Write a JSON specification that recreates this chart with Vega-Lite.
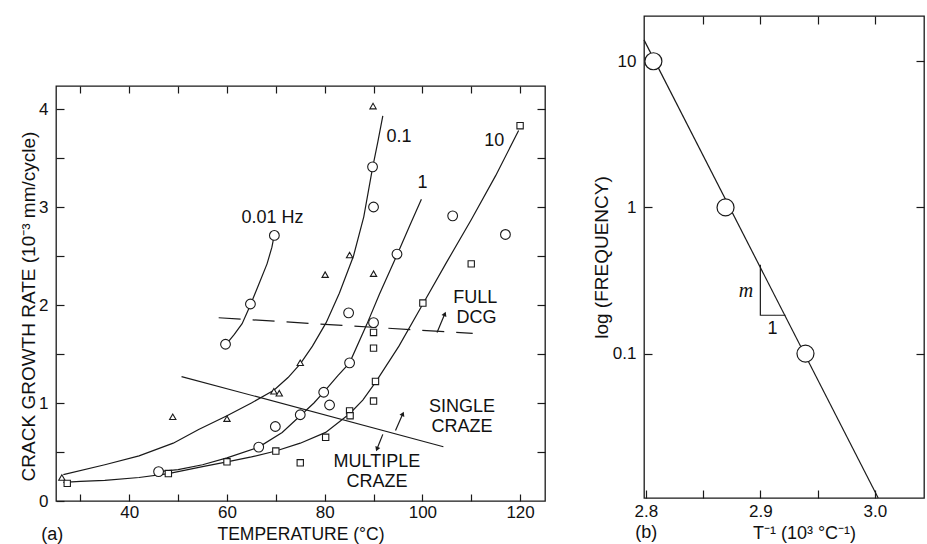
{
  "$schema": "https://vega.github.io/schema/vega-lite/v6.json",
  "background": "white",
  "padding": {"left": 18, "top": 14, "right": 0, "bottom": 0},
  "config": {
    "view": {"stroke": "#1a1a1a", "strokeWidth": 1.3},
    "font": "Liberation Sans",
    "axis": {"domain": false, "grid": false, "tickColor": "#1a1a1a", "tickWidth": 1.2, "labelFont": "Liberation Sans", "labelFontSize": 17, "labelColor": "#111", "titleFont": "Liberation Sans", "titleFontSize": 18, "titleFontWeight": "normal", "titleColor": "#111"},
    "text": {"font": "Liberation Sans", "fontSize": 18, "color": "#111"},
    "line": {"color": "#1a1a1a", "strokeWidth": 1.2}
  },
  "datasets": {
    "curvesA": [
      {"curve": "0.01 Hz", "t": 59.7, "rate": 1.59}, {"curve": "0.01 Hz", "t": 61.5, "rate": 1.70}, {"curve": "0.01 Hz", "t": 63.1, "rate": 1.81}, {"curve": "0.01 Hz", "t": 64.8, "rate": 2.00}, {"curve": "0.01 Hz", "t": 66.5, "rate": 2.21}, {"curve": "0.01 Hz", "t": 68.2, "rate": 2.42}, {"curve": "0.01 Hz", "t": 69.2, "rate": 2.59}, {"curve": "0.01 Hz", "t": 69.7, "rate": 2.72},
      {"curve": "0.1", "t": 26.5, "rate": 0.27}, {"curve": "0.1", "t": 35, "rate": 0.37}, {"curve": "0.1", "t": 42, "rate": 0.46}, {"curve": "0.1", "t": 49, "rate": 0.59}, {"curve": "0.1", "t": 54.2, "rate": 0.73}, {"curve": "0.1", "t": 60, "rate": 0.87}, {"curve": "0.1", "t": 65, "rate": 1.0}, {"curve": "0.1", "t": 69.6, "rate": 1.13}, {"curve": "0.1", "t": 72.5, "rate": 1.26}, {"curve": "0.1", "t": 75, "rate": 1.40}, {"curve": "0.1", "t": 77.5, "rate": 1.58}, {"curve": "0.1", "t": 80.3, "rate": 1.82}, {"curve": "0.1", "t": 83, "rate": 2.12}, {"curve": "0.1", "t": 85.9, "rate": 2.5}, {"curve": "0.1", "t": 88, "rate": 2.9}, {"curve": "0.1", "t": 89.8, "rate": 3.4}, {"curve": "0.1", "t": 90.9, "rate": 3.67}, {"curve": "0.1", "t": 91.9, "rate": 3.93},
      {"curve": "1", "t": 46, "rate": 0.30}, {"curve": "1", "t": 50, "rate": 0.32}, {"curve": "1", "t": 55, "rate": 0.37}, {"curve": "1", "t": 60, "rate": 0.44}, {"curve": "1", "t": 66.5, "rate": 0.55}, {"curve": "1", "t": 71.3, "rate": 0.70}, {"curve": "1", "t": 75, "rate": 0.87}, {"curve": "1", "t": 77.8, "rate": 1.0}, {"curve": "1", "t": 79.8, "rate": 1.11}, {"curve": "1", "t": 82.7, "rate": 1.28}, {"curve": "1", "t": 85.1, "rate": 1.41}, {"curve": "1", "t": 88.6, "rate": 1.80}, {"curve": "1", "t": 91.2, "rate": 2.11}, {"curve": "1", "t": 94.8, "rate": 2.51}, {"curve": "1", "t": 97.4, "rate": 2.81}, {"curve": "1", "t": 99.8, "rate": 3.08},
      {"curve": "10", "t": 26.5, "rate": 0.19}, {"curve": "10", "t": 30, "rate": 0.20}, {"curve": "10", "t": 35, "rate": 0.21}, {"curve": "10", "t": 42, "rate": 0.24}, {"curve": "10", "t": 48, "rate": 0.28}, {"curve": "10", "t": 55, "rate": 0.35}, {"curve": "10", "t": 60, "rate": 0.40}, {"curve": "10", "t": 65, "rate": 0.45}, {"curve": "10", "t": 70, "rate": 0.51}, {"curve": "10", "t": 75, "rate": 0.59}, {"curve": "10", "t": 80.2, "rate": 0.70}, {"curve": "10", "t": 85.1, "rate": 0.89}, {"curve": "10", "t": 87.8, "rate": 1.03}, {"curve": "10", "t": 90.4, "rate": 1.21}, {"curve": "10", "t": 95.2, "rate": 1.58}, {"curve": "10", "t": 100.1, "rate": 2.01}, {"curve": "10", "t": 105, "rate": 2.44}, {"curve": "10", "t": 110, "rate": 2.87}, {"curve": "10", "t": 115, "rate": 3.32}, {"curve": "10", "t": 119.7, "rate": 3.78}
    ],
    "pointsA": [
      {"set": "triangles", "t": 26.2, "rate": 0.24}, {"set": "triangles", "t": 48.9, "rate": 0.86}, {"set": "triangles", "t": 60, "rate": 0.84}, {"set": "triangles", "t": 69.6, "rate": 1.12}, {"set": "triangles", "t": 70.7, "rate": 1.10}, {"set": "triangles", "t": 75, "rate": 1.41}, {"set": "triangles", "t": 80.1, "rate": 2.31}, {"set": "triangles", "t": 85.1, "rate": 2.51}, {"set": "triangles", "t": 90, "rate": 2.32}, {"set": "triangles", "t": 89.9, "rate": 4.03},
      {"set": "circles", "t": 46, "rate": 0.30}, {"set": "circles", "t": 59.7, "rate": 1.60}, {"set": "circles", "t": 64.8, "rate": 2.01}, {"set": "circles", "t": 69.7, "rate": 2.71}, {"set": "circles", "t": 66.5, "rate": 0.55}, {"set": "circles", "t": 69.9, "rate": 0.76}, {"set": "circles", "t": 75, "rate": 0.88}, {"set": "circles", "t": 79.8, "rate": 1.11}, {"set": "circles", "t": 81, "rate": 0.98}, {"set": "circles", "t": 85.1, "rate": 1.41}, {"set": "circles", "t": 84.9, "rate": 1.92}, {"set": "circles", "t": 90, "rate": 1.82}, {"set": "circles", "t": 94.8, "rate": 2.52}, {"set": "circles", "t": 90, "rate": 3.0}, {"set": "circles", "t": 89.8, "rate": 3.41}, {"set": "circles", "t": 106.2, "rate": 2.91}, {"set": "circles", "t": 117, "rate": 2.72},
      {"set": "squares", "t": 27.3, "rate": 0.18}, {"set": "squares", "t": 48, "rate": 0.28}, {"set": "squares", "t": 60, "rate": 0.40}, {"set": "squares", "t": 70, "rate": 0.51}, {"set": "squares", "t": 75, "rate": 0.39}, {"set": "squares", "t": 80.2, "rate": 0.65}, {"set": "squares", "t": 85.1, "rate": 0.92}, {"set": "squares", "t": 85.2, "rate": 0.87}, {"set": "squares", "t": 90, "rate": 1.02}, {"set": "squares", "t": 90.4, "rate": 1.22}, {"set": "squares", "t": 90, "rate": 1.56}, {"set": "squares", "t": 90, "rate": 1.72}, {"set": "squares", "t": 100.1, "rate": 2.02}, {"set": "squares", "t": 110, "rate": 2.42}, {"set": "squares", "t": 120, "rate": 3.83}
    ],
    "boundsA": [
      {"name": "dcg", "t": 58.3, "rate": 1.87}, {"name": "dcg", "t": 110.3, "rate": 1.71},
      {"name": "craze", "t": 50.7, "rate": 1.27}, {"name": "craze", "t": 104.3, "rate": 0.554}
    ],
    "arrowsA": [
      {"name": "full", "end": "tail", "t": 103.0, "rate": 1.72}, {"name": "full", "end": "head", "t": 104.6, "rate": 1.91},
      {"name": "single", "end": "tail", "t": 94.5, "rate": 0.72}, {"name": "single", "end": "head", "t": 96.0, "rate": 0.89},
      {"name": "multiple", "end": "tail", "t": 91.9, "rate": 0.68}, {"name": "multiple", "end": "head", "t": 90.7, "rate": 0.53}
    ],
    "labelsA": [
      {"text": "0.01 Hz", "t": 69.3, "rate": 2.89}, {"text": "0.1", "t": 95.2, "rate": 3.71}, {"text": "1", "t": 100, "rate": 3.25}, {"text": "10", "t": 114.7, "rate": 3.67},
      {"text": "FULL", "t": 110.8, "rate": 2.07}, {"text": "DCG", "t": 111.1, "rate": 1.87},
      {"text": "SINGLE", "t": 108.1, "rate": 0.956}, {"text": "CRAZE", "t": 108.1, "rate": 0.752},
      {"text": "MULTIPLE", "t": 90.7, "rate": 0.395}, {"text": "CRAZE", "t": 90.7, "rate": 0.19},
      {"text": "(a)", "t": 24.25, "rate": -0.35}
    ],
    "lineB": [{"inv": 2.7984, "freq": 14.0}, {"inv": 3.0029, "freq": 0.01028}],
    "pointsB": [{"inv": 2.8066, "freq": 10}, {"inv": 2.8696, "freq": 1}, {"inv": 2.9394, "freq": 0.1}],
    "slopeB": [{"k": 1, "inv": 2.9, "freq": 0.405}, {"k": 2, "inv": 2.9, "freq": 0.183}, {"k": 3, "inv": 2.922, "freq": 0.183}],
    "labelsB": [{"text": "1", "inv": 2.9105, "freq": 0.147}, {"text": "(b)", "inv": 2.8004, "freq": 0.0059}],
    "labelsBm": [{"text": "m", "inv": 2.8875, "freq": 0.268}]
  },
  "hconcat": [
    {
      "spacing": 0,
      "vconcat": [
        {"width": 489, "height": 68, "data": {"values": [{"a": 1}]}, "mark": {"type": "point", "opacity": 0}, "view": {"stroke": null}},
        {
          "width": 489, "height": 415,
          "layer": [
            {
              "data": {"name": "curvesA"},
              "mark": {"type": "line"},
              "encoding": {
                "x": {"field": "t", "type": "quantitative", "scale": {"domain": [25, 125.1], "nice": false, "zero": false},
                  "axis": {"orient": "bottom", "values": [30, 40, 50, 60, 70, 80, 90, 100, 110, 120], "labelExpr": "datum.value % 20 == 0 ? format(datum.value, 'd') : ''", "tickSize": -7, "labelPadding": 10, "title": "TEMPERATURE (°C)", "titleFontSize": 17.5, "titlePadding": 5}},
                "y": {"field": "rate", "type": "quantitative", "scale": {"domain": [0, 4.235], "nice": false, "zero": false},
                  "axis": {"orient": "left", "values": [0, 0.5, 1, 1.5, 2, 2.5, 3, 3.5, 4], "labelExpr": "datum.value % 1 == 0 ? format(datum.value, 'd') : ''", "tickSize": -8, "labelPadding": 16, "title": "CRACK GROWTH RATE (10⁻³ mm/cycle)", "titleFontSize": 19, "titleY": 220, "titlePadding": 0}},
                "detail": {"field": "curve"},
                "order": {"field": "t"}
              }
            },
            {
              "data": {"name": "boundsA"},
              "transform": [{"filter": "datum.name == 'dcg'"}],
              "mark": {"type": "line", "strokeDash": [22, 12]},
              "encoding": {
                "x": {"field": "t", "type": "quantitative", "scale": {"domain": [25, 125.1], "nice": false, "zero": false}, "axis": null},
                "y": {"field": "rate", "type": "quantitative", "scale": {"domain": [0, 4.235], "nice": false, "zero": false}, "axis": null}
              }
            },
            {
              "data": {"name": "boundsA"},
              "transform": [{"filter": "datum.name == 'craze'"}],
              "mark": {"type": "line"},
              "encoding": {
                "x": {"field": "t", "type": "quantitative", "scale": {"domain": [25, 125.1], "nice": false, "zero": false}, "axis": null},
                "y": {"field": "rate", "type": "quantitative", "scale": {"domain": [0, 4.235], "nice": false, "zero": false}, "axis": null}
              }
            },
            {
              "data": {"name": "arrowsA"},
              "mark": {"type": "line"},
              "encoding": {
                "x": {"field": "t", "type": "quantitative", "scale": {"domain": [25, 125.1], "nice": false, "zero": false}, "axis": null},
                "y": {"field": "rate", "type": "quantitative", "scale": {"domain": [0, 4.235], "nice": false, "zero": false}, "axis": null},
                "detail": {"field": "name"}
              }
            },
            {
              "data": {"name": "arrowsA"},
              "transform": [{"filter": "datum.name == 'full' && datum.end == 'head'"}],
              "mark": {"type": "point", "shape": "triangle-up", "filled": true, "color": "#1a1a1a", "size": 28, "angle": 23, "opacity": 1},
              "encoding": {
                "x": {"field": "t", "type": "quantitative", "scale": {"domain": [25, 125.1], "nice": false, "zero": false}, "axis": null},
                "y": {"field": "rate", "type": "quantitative", "scale": {"domain": [0, 4.235], "nice": false, "zero": false}, "axis": null}
              }
            },
            {
              "data": {"name": "arrowsA"},
              "transform": [{"filter": "datum.name == 'single' && datum.end == 'head'"}],
              "mark": {"type": "point", "shape": "triangle-up", "filled": true, "color": "#1a1a1a", "size": 28, "angle": 24, "opacity": 1},
              "encoding": {
                "x": {"field": "t", "type": "quantitative", "scale": {"domain": [25, 125.1], "nice": false, "zero": false}, "axis": null},
                "y": {"field": "rate", "type": "quantitative", "scale": {"domain": [0, 4.235], "nice": false, "zero": false}, "axis": null}
              }
            },
            {
              "data": {"name": "arrowsA"},
              "transform": [{"filter": "datum.name == 'multiple' && datum.end == 'head'"}],
              "mark": {"type": "point", "shape": "triangle-up", "filled": true, "color": "#1a1a1a", "size": 28, "angle": 202, "opacity": 1},
              "encoding": {
                "x": {"field": "t", "type": "quantitative", "scale": {"domain": [25, 125.1], "nice": false, "zero": false}, "axis": null},
                "y": {"field": "rate", "type": "quantitative", "scale": {"domain": [0, 4.235], "nice": false, "zero": false}, "axis": null}
              }
            },
            {
              "data": {"name": "pointsA"},
              "transform": [{"filter": "datum.set == 'triangles'"}],
              "mark": {"type": "point", "shape": "triangle-up", "size": 40, "filled": true, "fill": "white", "stroke": "#1a1a1a", "strokeWidth": 1.1, "opacity": 1},
              "encoding": {
                "x": {"field": "t", "type": "quantitative", "scale": {"domain": [25, 125.1], "nice": false, "zero": false}, "axis": null},
                "y": {"field": "rate", "type": "quantitative", "scale": {"domain": [0, 4.235], "nice": false, "zero": false}, "axis": null}
              }
            },
            {
              "data": {"name": "pointsA"},
              "transform": [{"filter": "datum.set == 'circles'"}],
              "mark": {"type": "point", "shape": "circle", "size": 95, "filled": true, "fill": "white", "stroke": "#1a1a1a", "strokeWidth": 1.1, "opacity": 1},
              "encoding": {
                "x": {"field": "t", "type": "quantitative", "scale": {"domain": [25, 125.1], "nice": false, "zero": false}, "axis": null},
                "y": {"field": "rate", "type": "quantitative", "scale": {"domain": [0, 4.235], "nice": false, "zero": false}, "axis": null}
              }
            },
            {
              "data": {"name": "pointsA"},
              "transform": [{"filter": "datum.set == 'squares'"}],
              "mark": {"type": "point", "shape": "square", "size": 40, "filled": true, "fill": "white", "stroke": "#1a1a1a", "strokeWidth": 1.1, "opacity": 1},
              "encoding": {
                "x": {"field": "t", "type": "quantitative", "scale": {"domain": [25, 125.1], "nice": false, "zero": false}, "axis": null},
                "y": {"field": "rate", "type": "quantitative", "scale": {"domain": [0, 4.235], "nice": false, "zero": false}, "axis": null}
              }
            },
            {
              "data": {"name": "labelsA"},
              "mark": {"type": "text", "align": "center", "baseline": "middle"},
              "encoding": {
                "x": {"field": "t", "type": "quantitative", "scale": {"domain": [25, 125.1], "nice": false, "zero": false}, "axis": null},
                "y": {"field": "rate", "type": "quantitative", "scale": {"domain": [0, 4.235], "nice": false, "zero": false}, "axis": null},
                "text": {"field": "text"}
              }
            },
            {
              "data": {"name": "curvesA"},
              "mark": {"type": "point", "opacity": 0},
              "encoding": {
                "x": {"field": "t", "type": "quantitative", "scale": {"domain": [25, 125.1], "nice": false, "zero": false},
                  "axis": {"orient": "top", "values": [30, 40, 50, 60, 70, 80, 90, 100, 110, 120], "labels": false, "tickSize": -7, "title": null}},
                "y": {"field": "rate", "type": "quantitative", "scale": {"domain": [0, 4.235], "nice": false, "zero": false},
                  "axis": {"orient": "right", "values": [0.5, 1, 1.5, 2, 2.5, 3, 3.5, 4], "labels": false, "tickSize": -8, "title": null}}
              }
            }
          ],
          "resolve": {"axis": {"x": "independent", "y": "independent"}}
        }
      ]
    },
    {
      "width": 280, "height": 482,
      "layer": [
        {
          "data": {"name": "lineB"},
          "mark": {"type": "line"},
          "encoding": {
            "x": {"field": "inv", "type": "quantitative", "scale": {"domain": [2.7984, 3.0429], "nice": false, "zero": false},
              "axis": {"orient": "bottom", "values": [2.8, 2.85, 2.9, 2.95, 3.0], "labelExpr": "abs(round(datum.value * 10) - datum.value * 10) < 0.01 ? format(datum.value, '.1f') : ''", "tickSize": -8, "labelPadding": 13, "title": "T⁻¹ (10³ °C⁻¹)", "titleX": 160, "titlePadding": 5}},
            "y": {"field": "freq", "type": "quantitative", "scale": {"type": "log", "domain": [0.01028, 20.4], "nice": false},
              "axis": {"orient": "left", "values": [0.1, 1, 10], "format": "~g", "tickSize": -8, "labelPadding": 16, "title": "log (FREQUENCY)", "titleFontSize": 19, "titlePadding": 1}}
          }
        },
        {
          "data": {"name": "slopeB"},
          "mark": {"type": "line"},
          "encoding": {
            "x": {"field": "inv", "type": "quantitative", "scale": {"domain": [2.7984, 3.0429], "nice": false, "zero": false}, "axis": null},
            "y": {"field": "freq", "type": "quantitative", "scale": {"type": "log", "domain": [0.01028, 20.4], "nice": false}, "axis": null},
            "order": {"field": "k"}
          }
        },
        {
          "data": {"name": "pointsB"},
          "mark": {"type": "point", "shape": "circle", "filled": true, "fill": "white", "stroke": "#1a1a1a", "strokeWidth": 1.2, "size": 290, "opacity": 1},
          "encoding": {
            "x": {"field": "inv", "type": "quantitative", "scale": {"domain": [2.7984, 3.0429], "nice": false, "zero": false}, "axis": null},
            "y": {"field": "freq", "type": "quantitative", "scale": {"type": "log", "domain": [0.01028, 20.4], "nice": false}, "axis": null}
          }
        },
        {
          "data": {"name": "labelsB"},
          "mark": {"type": "text", "align": "center", "baseline": "middle"},
          "encoding": {
            "x": {"field": "inv", "type": "quantitative", "scale": {"domain": [2.7984, 3.0429], "nice": false, "zero": false}, "axis": null},
            "y": {"field": "freq", "type": "quantitative", "scale": {"type": "log", "domain": [0.01028, 20.4], "nice": false}, "axis": null},
            "text": {"field": "text"}
          }
        },
        {
          "data": {"name": "labelsBm"},
          "mark": {"type": "text", "align": "center", "baseline": "middle", "font": "Liberation Serif", "fontStyle": "italic", "fontSize": 20},
          "encoding": {
            "x": {"field": "inv", "type": "quantitative", "scale": {"domain": [2.7984, 3.0429], "nice": false, "zero": false}, "axis": null},
            "y": {"field": "freq", "type": "quantitative", "scale": {"type": "log", "domain": [0.01028, 20.4], "nice": false}, "axis": null},
            "text": {"field": "text"}
          }
        },
        {
          "data": {"name": "pointsB"},
          "mark": {"type": "point", "opacity": 0},
          "encoding": {
            "x": {"field": "inv", "type": "quantitative", "scale": {"domain": [2.7984, 3.0429], "nice": false, "zero": false},
              "axis": {"orient": "top", "values": [2.85, 2.9, 2.95, 3.0], "labels": false, "tickSize": -8, "title": null}},
            "y": {"field": "freq", "type": "quantitative", "scale": {"type": "log", "domain": [0.01028, 20.4], "nice": false},
              "axis": {"orient": "right", "values": [0.1, 1, 10], "labels": false, "tickSize": -8, "title": null}}
          }
        }
      ],
      "resolve": {"axis": {"x": "independent", "y": "independent"}}
    }
  ],
  "spacing": 44
}
